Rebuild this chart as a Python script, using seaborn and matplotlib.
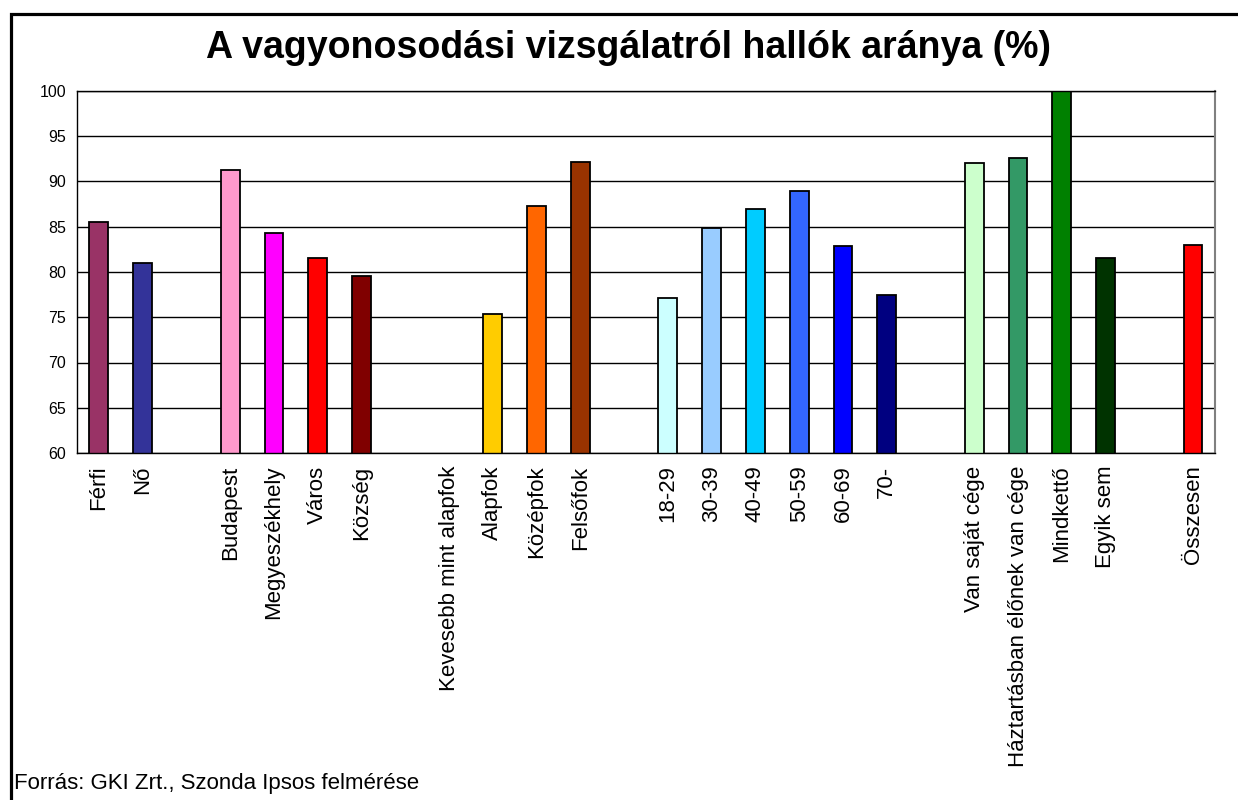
import numpy as np
import pandas as pd
import seaborn as sns
import matplotlib.pyplot as plt
from matplotlib.patches import Rectangle

# slot order on the x axis, the blank entries are the empty gaps between groups
slots = ["Férfi", "Nő", " ",
         "Budapest", "Megyeszékhely", "Város", "Község", "  ",
         "Kevesebb mint alapfok", "Alapfok", "Középfok", "Felsőfok", "   ",
         "18-29", "30-39", "40-49", "50-59", "60-69", "70-", "    ",
         "Van saját cége", "Háztartásban élőnek van cége", "Mindkettő", "Egyik sem", "     ",
         "Összesen"]

categories = ["Férfi", "Nő", "Budapest", "Megyeszékhely", "Város", "Község",
              "Alapfok", "Középfok", "Felsőfok",
              "18-29", "30-39", "40-49", "50-59", "60-69", "70-",
              "Van saját cége", "Háztartásban élőnek van cége", "Mindkettő", "Egyik sem",
              "Összesen"]
values = [85.5, 81.0, 91.3, 84.3, 81.5, 79.6,
          75.4, 87.3, 92.1,
          77.1, 84.9, 87.0, 89.0, 82.9, 77.5,
          92.0, 92.6, 100.0, 81.5,
          83.0]
colors = ["#993366", "#333399", "#FF99CC", "#FF00FF", "#FF0000", "#800000",
          "#FFCC00", "#FF6600", "#993300",
          "#CCFFFF", "#99CCFF", "#00CCFF", "#3366FF", "#0000FF", "#000080",
          "#CCFFCC", "#339966", "#008000", "#003300",
          "#FF0000"]

df = pd.DataFrame({"kategoria": categories, "arany": values})

sns.set_style("white")
plt.rcParams['font.family'] = ['Liberation Sans', 'DejaVu Sans']
plt.rcParams['text.color'] = 'black'
plt.rcParams['xtick.color'] = 'black'
plt.rcParams['ytick.color'] = 'black'

fig = plt.figure(figsize=(12.38, 8), dpi=100)
ax = fig.add_axes([0.0622, 0.43375, 0.9192, 0.4525])

sns.barplot(data=df, x="kategoria", y="arany", hue="kategoria", order=slots,
            palette=dict(zip(categories, colors)), dodge=False, legend=False,
            saturation=1, width=0.43, edgecolor="black", linewidth=1.3, ax=ax)

ax.set_ylim(60, 100)
ax.set_xlim(-0.5, len(slots) - 0.5)
ax.set_yticks(np.arange(60, 101, 5))
ax.yaxis.grid(True, color="black", linewidth=1)
ax.set_axisbelow(True)
ax.set_xlabel("")
ax.set_ylabel("")

ax.set_xticks(range(len(slots)))
ax.set_xticklabels(slots, rotation=90, fontsize=16, va="top")
ax.tick_params(axis="x", length=0, pad=9)
ax.set_xticks(np.arange(-0.5, len(slots), 1), minor=True)
ax.tick_params(axis="x", which="minor", length=6, width=1, color="#808080", direction="out")
ax.tick_params(axis="y", length=5, width=1, color="black", direction="out", labelsize=11.5, pad=3)

for side in ["left", "bottom", "top"]:
    ax.spines[side].set_color("black")
    ax.spines[side].set_linewidth(1)
ax.spines["right"].set_color("#808080")
ax.spines["right"].set_linewidth(1.5)

fig.text(0.508, 0.94, "A vagyonosodási vizsgálatról hallók aránya (%)",
         ha="center", va="center", fontsize=27, fontweight="bold")
fig.text(0.011, 0.021, "Forrás: GKI Zrt., Szonda Ipsos felmérése",
         ha="left", va="center", fontsize=16)

fig.patches.append(Rectangle((0.0085, -0.1), 2, 1.083, transform=fig.transFigure,
                             fill=False, edgecolor="black", linewidth=2.3))

fig.savefig("out.png", dpi=100)
